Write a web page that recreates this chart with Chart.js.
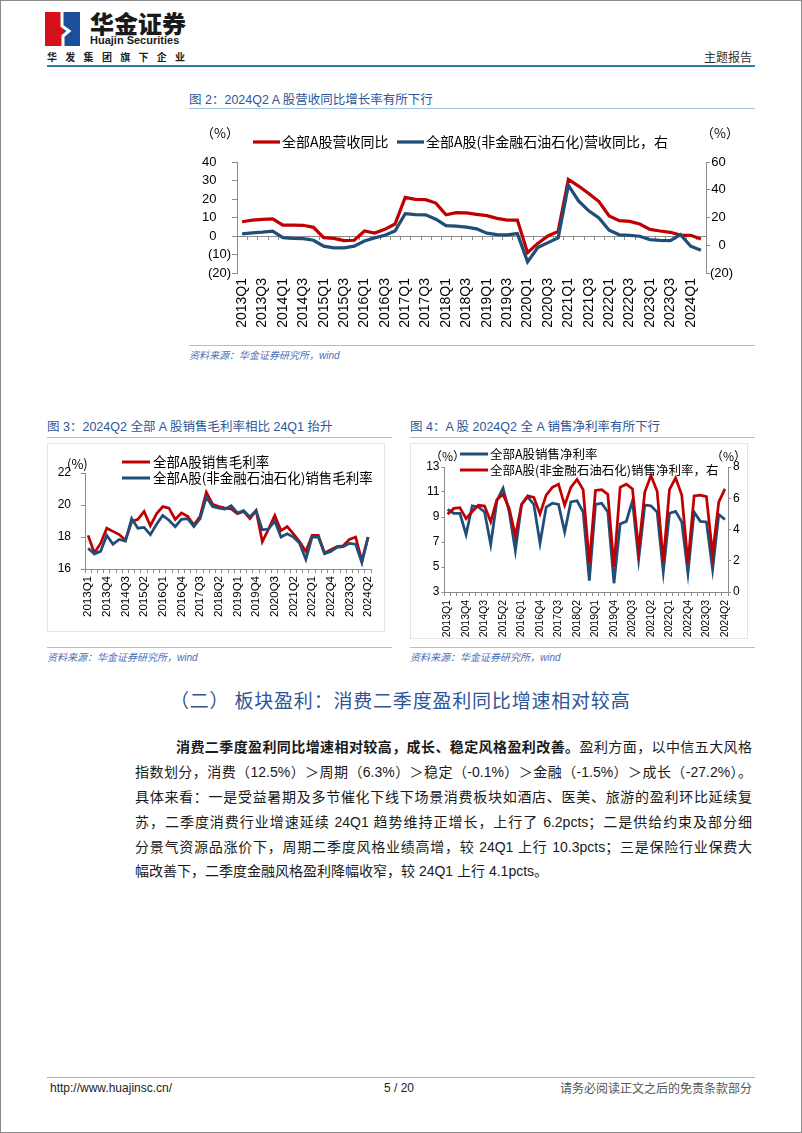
<!DOCTYPE html>
<html lang="zh-CN">
<head>
<meta charset="utf-8">
<title>2024Q2 A股营收与利润率</title>
<script src="https://cdn.jsdelivr.net/npm/chart.js@4.4.1/dist/chart.umd.min.js"></script>
<style>
  html, body { margin: 0; padding: 0; background: #fff; }
  body { position: relative; width: 802px; height: 1133px; overflow: hidden;
         font-family: "Liberation Sans", "Noto Sans CJK SC", sans-serif; color: #1a1a1a; }
  .frame { position: absolute; left: 0; top: 0; width: 800px; height: 1131px; border: 1px solid #8a8a8a; }
  .t { position: absolute; white-space: nowrap; line-height: 1; }
  .rule { position: absolute; height: 1px; background: #9dc3e6; }
  .fig-title { font-size: 12.5px; color: #2f5597; }
  .src { font-size: 10px; font-style: italic; color: #4a6fb5; }
  .box { position: absolute; border: 1px solid #e4e4e4; box-sizing: border-box; }
  canvas { position: absolute; }
  .line { position: absolute; left: 135px; width: 617px; height: 20px; line-height: 20px; font-size: 14px;
          white-space: nowrap; text-align: justify; text-align-last: justify; color: #1a1a1a; }
</style>
</head>
<body>
<div class="frame"></div>

<!-- 页眉 -->
<svg class="t" style="left:45px;top:12px" width="35" height="34" viewBox="0 0 35 34">
  <rect width="35" height="34" fill="#d5121b"/>
  <rect x="19" width="16" height="34" fill="#1d4e9e"/>
  <polyline points="17,0 17,14 24,19 18,24 18,34" fill="none" stroke="#fff" stroke-width="3"/>
</svg>
<div class="t" style="left:90px;top:11px;font-size:24px;font-weight:900;font-family:'Noto Sans CJK SC';color:#1a1a1a">华金证券</div>
<div class="t" style="left:90px;top:35px;font-size:11px;font-weight:bold;color:#1a1a1a">Huajin Securities</div>
<div class="t" style="left:47px;top:52px;font-size:10px;font-weight:bold;letter-spacing:8.3px;font-family:'Noto Sans CJK SC';color:#222">华发集团旗下企业</div>
<div class="t" style="left:704px;top:51px;font-size:12px;font-family:'Noto Sans CJK SC';color:#333">主题报告</div>
<div style="position:absolute;left:47px;top:65px;width:708px;height:2px;background:#2e7da6"></div>

<!-- 图2 -->
<div class="t fig-title" style="left:189px;top:94px">图 2：2024Q2 A 股营收同比增长率有所下行</div>
<div class="rule" style="left:189px;top:108px;width:566px"></div>
<canvas id="c1" width="566" height="232" style="left:189px;top:112px"></canvas>
<div class="rule" style="left:189px;top:345px;width:566px"></div>
<div class="t src" style="left:189px;top:351px">资料来源：华金证券研究所，wind</div>

<!-- 图3 / 图4 -->
<div class="t fig-title" style="left:47px;top:421px">图 3：2024Q2 全部 A 股销售毛利率相比 24Q1 抬升</div>
<div class="rule" style="left:47px;top:437px;width:345px"></div>
<div class="t fig-title" style="left:410px;top:421px">图 4：A 股 2024Q2 全 A 销售净利率有所下行</div>
<div class="rule" style="left:410px;top:437px;width:345px"></div>

<div class="box" style="left:47px;top:443px;width:338px;height:189px"></div>
<canvas id="c3" width="338" height="186" style="left:47px;top:445px"></canvas>
<div class="box" style="left:410px;top:443px;width:338px;height:196px"></div>
<canvas id="c4" width="338" height="193" style="left:410px;top:445px"></canvas>

<div class="rule" style="left:47px;top:647px;width:345px"></div>
<div class="t src" style="left:47px;top:653px">资料来源：华金证券研究所，wind</div>
<div class="rule" style="left:410px;top:647px;width:345px"></div>
<div class="t src" style="left:410px;top:653px">资料来源：华金证券研究所，wind</div>

<!-- 正文 -->
<div class="t" style="left:170px;top:690px;font-size:19px;letter-spacing:0.8px;font-family:'Noto Sans CJK SC';color:#2f5597">（二） 板块盈利：消费二季度盈利同比增速相对较高</div>

<div class="line" style="top:737px;left:176px;width:576px"><b>消费二季度盈利同比增速相对较高，成长、稳定风格盈利改善。</b>盈利方面，以中信五大风格</div>
<div class="line" style="top:762px">指数划分，消费（12.5%）＞周期（6.3%）＞稳定（-0.1%）＞金融（-1.5%）＞成长（-27.2%）。</div>
<div class="line" style="top:787px">具体来看：一是受益暑期及多节催化下线下场景消费板块如酒店、医美、旅游的盈利环比延续复</div>
<div class="line" style="top:812px">苏，二季度消费行业增速延续 24Q1 趋势维持正增长，上行了 6.2pcts；二是供给约束及部分细</div>
<div class="line" style="top:837px">分景气资源品涨价下，周期二季度风格业绩高增，较 24Q1 上行 10.3pcts；三是保险行业保费大</div>
<div class="line" style="top:861px;text-align:left;text-align-last:left">幅改善下，二季度金融风格盈利降幅收窄，较 24Q1 上行 4.1pcts。</div>

<!-- 页脚 -->
<div style="position:absolute;left:47px;top:1077px;width:708px;height:1px;background:#b0b0b0"></div>
<div class="t" style="left:50px;top:1082px;font-size:12px;color:#222">http://www.huajinsc.cn/</div>
<div class="t" style="left:384px;top:1082px;font-size:12px;color:#222">5 / 20</div>
<div class="t" style="left:560px;top:1082px;font-size:12px;font-family:'Noto Sans CJK SC';color:#555">请务必阅读正文之后的免责条款部分</div>

<script>
// 季度标签
const quarters = ['2013Q1', '2013Q2', '2013Q3', '2013Q4', '2014Q1', '2014Q2', '2014Q3', '2014Q4',
    '2015Q1', '2015Q2', '2015Q3', '2015Q4', '2016Q1', '2016Q2', '2016Q3', '2016Q4',
    '2017Q1', '2017Q2', '2017Q3', '2017Q4', '2018Q1', '2018Q2', '2018Q3', '2018Q4',
    '2019Q1', '2019Q2', '2019Q3', '2019Q4', '2020Q1', '2020Q2', '2020Q3', '2020Q4',
    '2021Q1', '2021Q2', '2021Q3', '2021Q4', '2022Q1', '2022Q2', '2022Q3', '2022Q4',
    '2023Q1', '2023Q2', '2023Q3', '2023Q4', '2024Q1', '2024Q2'];

// 图2：营收同比（%）
const revAll = [7.7, 8.6, 9.0, 9.2, 5.9, 5.9, 5.8, 4.7, -0.9, -1.3, -2.5, -2.3, 2.7, 1.6, 3.6, 6.5,
    20.9, 19.8, 19.6, 17.8, 11.5, 12.6, 12.5, 11.7, 11.0, 9.5, 8.6, 8.6, -9.0, -4.0, 0.0, 2.5,
    30.6, 27.0, 23.0, 18.6, 10.8, 8.3, 7.9, 6.5, 3.6, 2.7, 2.0, 0.5, 0.4, -1.6];
const revNonFin = [8.2, 8.9, 9.4, 10.1, 5.5, 5.0, 4.8, 3.6, -0.7, -1.9, -1.9, -0.7, 3.1, 5.3, 7.2, 10.3,
    22.8, 22.1, 21.9, 18.8, 14.2, 13.7, 13.0, 11.8, 8.7, 7.7, 7.5, 8.4, -12.0, -1.7, 1.9, 5.3,
    43.3, 32.0, 24.8, 19.7, 10.8, 7.5, 7.2, 6.5, 4.1, 3.6, 3.4, 7.7, -0.7, -3.6];

// 图3：销售毛利率（%）
const grossAll = [18.1, 17.0, 17.6, 18.55, 18.35, 18.15, 17.8, 18.95, 19.1, 19.6, 18.7, 19.45, 19.9, 19.8, 19.1, 19.5,
    19.3, 18.75, 19.3, 20.8, 20.05, 19.9, 19.8, 19.75, 19.45, 19.6, 19.15, 19.65, 17.7, 18.5, 19.35, 18.4,
    18.65, 18.2, 17.7, 17.1, 18.1, 18.1, 17.0, 17.2, 17.4, 17.45, 17.85, 18.0, 16.5, 18.0];
const grossNonFin = [17.3, 16.95, 17.1, 18.1, 17.55, 17.85, 17.75, 19.15, 18.55, 18.6, 18.15, 18.8, 19.35, 19.05, 18.65, 19.1,
    19.15, 18.65, 19.15, 20.5, 19.9, 19.8, 19.75, 19.95, 19.5, 19.65, 19.25, 19.65, 18.45, 18.5, 19.0, 18.0,
    18.2, 18.0, 17.6, 16.6, 18.0, 18.0, 16.95, 17.1, 17.35, 17.4, 17.6, 17.55, 16.4, 18.0];

// 图4：销售净利率（%）
const netAll = [9.6, 9.3, 9.3, 7.6, 9.9, 9.8, 9.4, 6.8, 10.3, 11.3, 9.4, 6.3, 10.0, 10.6, 10.0, 6.9,
    9.8, 10.1, 10.0, 7.8, 10.2, 10.3, 9.4, 3.9, 10.0, 10.1, 9.4, 3.7, 8.45, 8.65, 10.3, 5.6,
    9.95, 9.9, 9.4, 4.6, 9.3, 9.45, 8.6, 4.5, 9.4, 8.65, 8.6, 4.8, 9.2, 8.8];
const netNonFin = [4.97, 5.35, 5.4, 4.7, 5.15, 5.55, 5.5, 4.5, 5.9, 6.25, 5.35, 3.6, 5.6, 6.15, 6.05, 5.0,
    6.2, 6.7, 6.9, 5.55, 6.7, 7.2, 6.55, 1.85, 6.5, 6.55, 6.25, 1.6, 6.7, 6.9, 6.6, 2.7,
    6.4, 7.45, 6.45, 1.95, 6.55, 7.3, 6.2, 1.85, 6.15, 6.2, 6.1, 2.4, 5.75, 6.6];

const RED = '#c00000';
const BLUE = '#1f4e79';
const AXIS = '#8c8c8c';
const CJK = "'Noto Sans CJK SC', sans-serif";

Chart.defaults.font.family = "'Liberation Sans', 'Noto Sans CJK SC', sans-serif";
Chart.defaults.color = '#000';

// 负数用括号表示
function paren(v, pad) {
    return v < 0 ? '(' + (-v) + ')' : v + pad;
}

// 图例：线段 + 文字，以及（%）单位
function lineLegend(cfg) {
    return {
        id: 'lineLegend',
        afterDraw(chart) {
            const ctx = chart.ctx;
            ctx.save();
            ctx.textBaseline = 'middle';
            ctx.textAlign = 'left';
            ctx.fillStyle = '#000';
            ctx.font = cfg.font;
            cfg.items.forEach(function (it) {
                const ds = chart.data.datasets[it.index];
                ctx.strokeStyle = ds.borderColor;
                ctx.lineWidth = cfg.lineWidth;
                ctx.beginPath();
                ctx.moveTo(it.x, it.y);
                ctx.lineTo(it.x + cfg.len, it.y);
                ctx.stroke();
                ctx.fillText(ds.label, it.x + cfg.len + cfg.gap, it.y);
            });
            ctx.font = cfg.unitFont;
            cfg.units.forEach(function (u) {
                ctx.fillText(u.text, u.x, u.y);
            });
            ctx.restore();
        }
    };
}

// 图2 零轴上的刻度线
const zeroTicks = {
    id: 'zeroTicks',
    beforeDatasetsDraw(chart) {
        const xs = chart.scales.x;
        const y0 = chart.scales.y.getPixelForValue(0);
        const half = (xs.getPixelForValue(1) - xs.getPixelForValue(0)) / 2;
        const ctx = chart.ctx;
        ctx.save();
        ctx.strokeStyle = AXIS;
        ctx.lineWidth = 1;
        ctx.beginPath();
        for (let i = 0; i <= quarters.length; i++) {
            const px = Math.round(xs.getPixelForValue(i) - half) + 0.5;
            ctx.moveTo(px, y0);
            ctx.lineTo(px, y0 + 4);
        }
        ctx.stroke();
        ctx.restore();
    }
};

function everyNth(n) {
    return function (v, i) {
        return i % n === 0 ? this.getLabelForValue(v) : '';
    };
}

// 图2
new Chart(document.getElementById('c1'), {
    type: 'line',
    data: {
        labels: quarters,
        datasets: [
            { label: '全部A股营收同比', data: revAll, borderColor: RED, yAxisID: 'y', order: 1 },
            { label: '全部A股(非金融石油石化)营收同比，右', data: revNonFin, borderColor: BLUE, yAxisID: 'y1', order: 0 }
        ]
    },
    options: {
        responsive: false,
        animation: false,
        layout: { padding: { top: 50, left: 0, right: 22, bottom: 0 } },
        elements: { point: { radius: 0 }, line: { borderWidth: 3.25, tension: 0 } },
        plugins: { legend: { display: false }, tooltip: { enabled: false } },
        scales: {
            x: {
                offset: true,
                grid: { display: false, drawTicks: false },
                border: { display: false },
                ticks: { autoSkip: false, minRotation: 90, maxRotation: 90, padding: 5, font: { size: 14 }, callback: everyNth(2) },
                afterFit: function (s) { s.height = 71; }
            },
            y: {
                position: 'left', min: -20, max: 40,
                ticks: { stepSize: 10, autoSkip: false, padding: 1, font: { size: 13 }, callback: v => paren(v, '    ') },
                grid: {
                    drawOnChartArea: true,
                    color: c => (c.tick && c.tick.value === 0) ? AXIS : 'rgba(0,0,0,0)',
                    tickColor: AXIS, tickLength: 5
                },
                border: { display: true, color: AXIS },
                afterFit: function (s) { s.width = 48; }
            },
            y1: {
                position: 'right', min: -20, max: 60,
                ticks: { stepSize: 20, autoSkip: false, padding: 1, crossAlign: 'far', font: { size: 13 }, callback: v => paren(v, '  ') },
                grid: { drawOnChartArea: false, color: AXIS, tickLength: 4 },
                border: { display: true, color: AXIS },
                afterFit: function (s) { s.width = 27; }
            }
        }
    },
    plugins: [zeroTicks, lineLegend({
        font: '14px ' + CJK, unitFont: '13px ' + CJK, lineWidth: 3.25, len: 27, gap: 2,
        items: [{ index: 0, x: 64, y: 30 }, { index: 1, x: 208, y: 30 }],
        units: [{ text: '（%）', x: 12, y: 21 }, { text: '（%）', x: 512, y: 21 }]
    })]
});

// 图3
new Chart(document.getElementById('c3'), {
    type: 'line',
    data: {
        labels: quarters,
        datasets: [
            { label: '全部A股销售毛利率', data: grossAll, borderColor: RED, order: 1 },
            { label: '全部A股(非金融石油石化)销售毛利率', data: grossNonFin, borderColor: BLUE, order: 0 }
        ]
    },
    options: {
        responsive: false,
        animation: false,
        layout: { padding: { top: 28, left: 0, right: 10, bottom: 0 } },
        elements: { point: { radius: 0 }, line: { borderWidth: 2.75, tension: 0 } },
        plugins: { legend: { display: false }, tooltip: { enabled: false } },
        scales: {
            x: {
                offset: true,
                grid: { display: true, drawOnChartArea: false, offset: true, color: AXIS, tickLength: 4 },
                border: { display: true, color: AXIS },
                ticks: { autoSkip: false, minRotation: 90, maxRotation: 90, padding: 3, font: { size: 11.5 }, callback: everyNth(3) },
                afterFit: function (s) { s.height = 62; }
            },
            y: {
                min: 16, max: 22,
                ticks: { stepSize: 2, autoSkip: false, padding: 10, font: { size: 12 } },
                grid: { drawOnChartArea: false, color: AXIS, tickLength: 4 },
                border: { display: true, color: AXIS },
                afterFit: function (s) { s.width = 38; }
            }
        }
    },
    plugins: [lineLegend({
        font: '13.5px ' + CJK, unitFont: '13px ' + CJK, lineWidth: 3, len: 28, gap: 3,
        items: [{ index: 0, x: 75, y: 17 }, { index: 1, x: 75, y: 33 }],
        units: [{ text: '(%)', x: 20, y: 19 }]
    })]
});

// 图4
new Chart(document.getElementById('c4'), {
    type: 'line',
    data: {
        labels: quarters,
        datasets: [
            { label: '全部A股销售净利率', data: netAll, borderColor: BLUE, yAxisID: 'y', order: 1 },
            { label: '全部A股(非金融石油石化)销售净利率，右', data: netNonFin, borderColor: RED, yAxisID: 'y1', order: 0 }
        ]
    },
    options: {
        responsive: false,
        animation: false,
        layout: { padding: { top: 22, left: 0, right: 0, bottom: 0 } },
        elements: { point: { radius: 0 }, line: { borderWidth: 2.75, tension: 0 } },
        plugins: { legend: { display: false }, tooltip: { enabled: false } },
        scales: {
            x: {
                offset: true,
                grid: { display: true, drawOnChartArea: false, offset: true, color: AXIS, tickLength: 4 },
                border: { display: true, color: AXIS },
                ticks: { autoSkip: false, minRotation: 90, maxRotation: 90, padding: 4, font: { size: 10.5 }, callback: everyNth(3) },
                afterFit: function (s) { s.height = 46; }
            },
            y: {
                position: 'left', min: 3, max: 13,
                ticks: { stepSize: 2, autoSkip: false, padding: 2, font: { size: 12 } },
                grid: { drawOnChartArea: false, color: AXIS, tickLength: 3 },
                border: { display: true, color: AXIS },
                afterFit: function (s) { s.width = 34.5; }
            },
            y1: {
                position: 'right', min: 0, max: 8,
                ticks: { stepSize: 2, autoSkip: false, padding: 2, font: { size: 12 } },
                grid: { drawOnChartArea: false, color: AXIS, tickLength: 3 },
                border: { display: true, color: AXIS },
                afterFit: function (s) { s.width = 20; }
            }
        }
    },
    plugins: [lineLegend({
        font: '12.5px ' + CJK, unitFont: '12px ' + CJK, lineWidth: 3, len: 28, gap: 2,
        items: [{ index: 0, x: 50, y: 9 }, { index: 1, x: 50, y: 25 }],
        units: [{ text: '（%）', x: 20, y: 11 }, { text: '（%）', x: 301, y: 11 }]
    })]
});
</script>
</body>
</html>
